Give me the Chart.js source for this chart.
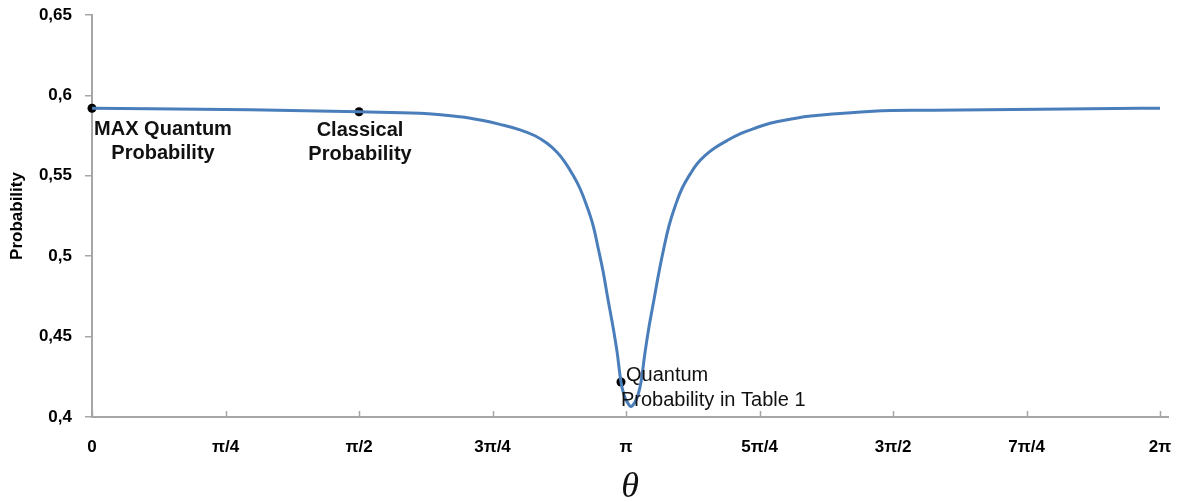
<!DOCTYPE html>
<html>
<head>
<meta charset="utf-8">
<script src="https://cdn.jsdelivr.net/npm/chart.js@4/dist/chart.umd.min.js"></script>
<style>
  html, body { margin: 0; padding: 0; background: #ffffff; }
  #wrap { width: 1181px; height: 502px; }
</style>
</head>
<body>
<div id="wrap"><canvas id="chart" width="1181" height="502"></canvas></div>
<script>
// Probability as a function of the phase angle θ (radians)
const theta = [0, 0.341, 0.930, 1.571, 1.930, 2.165, 2.294, 2.400, 2.518, 2.606, 2.677, 2.736, 2.783, 2.824,
  2.871, 2.912, 2.948, 2.977, 3.007, 3.036, 3.065, 3.089, 3.112, 3.130, 3.148, 3.171, 3.195, 3.212, 3.230,
  3.254, 3.277, 3.306, 3.336, 3.365, 3.395, 3.430, 3.471, 3.518, 3.559, 3.606, 3.665, 3.736, 3.812, 3.889,
  3.989, 4.106, 4.242, 4.595, 4.948, 5.577, 6.166, 6.283];
const prob = [0.5920, 0.5917, 0.5911, 0.5898, 0.5889, 0.5867, 0.5845, 0.5820, 0.5786, 0.5749, 0.5702, 0.5646,
  0.5584, 0.5515, 0.5421, 0.5309, 0.5191, 0.5054, 0.4904, 0.4729, 0.4561, 0.4405, 0.4218, 0.4137, 0.4094,
  0.4065, 0.4094, 0.4137, 0.4218, 0.4405, 0.4561, 0.4729, 0.4904, 0.5054, 0.5191, 0.5309, 0.5421, 0.5509,
  0.5573, 0.5625, 0.5674, 0.5719, 0.5761, 0.5792, 0.5827, 0.5852, 0.5873, 0.5902, 0.5908, 0.5914, 0.5920,
  0.5920];

// Highlighted points on the curve
const markTheta = [0, 1.571, 3.112];
const markProb = [0.5920, 0.5898, 0.4218];
const markNotes = [
  ['MAX Quantum', 'Probability'],
  ['Classical', 'Probability'],
  ['Quantum', 'Probability in Table 1']
];

// Axis ticks
const xTickLabels = ['0', 'π/4', 'π/2', '3π/4', 'π', '5π/4', '3π/2', '7π/4', '2π'];
const xTickValues = xTickLabels.map((_, k) => k * Math.PI / 4);
const yTickValues = [0.4, 0.45, 0.5, 0.55, 0.6, 0.65];
const yTickLabels = ['0,4', '0,45', '0,5', '0,55', '0,6', '0,65'];

const AXIS_GREY = '#a6a6a6';
const LINE_BLUE = '#4a7ebb';

// Small upward tick marks on the x axis
const innerXTicks = {
  id: 'innerXTicks',
  beforeDatasetsDraw(chart) {
    const { ctx, scales: { x }, chartArea } = chart;
    ctx.save();
    ctx.strokeStyle = AXIS_GREY;
    ctx.lineWidth = 1.5;
    xTickValues.forEach(v => {
      const px = Math.round(x.getPixelForValue(v)) + 0.5;
      ctx.beginPath();
      ctx.moveTo(px, chartArea.bottom);
      ctx.lineTo(px, chartArea.bottom - 6);
      ctx.stroke();
    });
    ctx.restore();
  }
};

// Text notes next to the highlighted points
const pointNotes = {
  id: 'pointNotes',
  afterDatasetsDraw(chart) {
    const { ctx } = chart;
    const pts = chart.getDatasetMeta(1).data;
    const styles = [
      { font: 'bold 20px "Liberation Sans", Arial, sans-serif', align: 'center', dx: [71, 71], dy: [27, 51] },
      { font: 'bold 20px "Liberation Sans", Arial, sans-serif', align: 'center', dx: [1, 1], dy: [24, 48] },
      { font: '20px "Liberation Sans", Arial, sans-serif', align: 'left', dx: [5, 0], dy: [-1, 24] }
    ];
    ctx.save();
    ctx.fillStyle = '#111111';
    ctx.textBaseline = 'alphabetic';
    markNotes.forEach((lines, i) => {
      const p = pts[i];
      const s = styles[i];
      ctx.font = s.font;
      ctx.textAlign = s.align;
      lines.forEach((t, j) => ctx.fillText(t, p.x + s.dx[j], p.y + s.dy[j]));
    });
    ctx.restore();
  }
};

new Chart(document.getElementById('chart'), {
  type: 'line',
  data: {
    datasets: [
      {
        data: theta.map((t, i) => ({ x: t, y: prob[i] })),
        borderColor: LINE_BLUE,
        borderWidth: 3,
        pointRadius: 0,
        tension: 0.4,
        fill: false,
        clip: false
      },
      {
        type: 'scatter',
        data: markTheta.map((t, i) => ({ x: t, y: markProb[i] })),
        backgroundColor: '#000000',
        borderColor: '#000000',
        pointRadius: 4.5,
        borderWidth: 0,
        clip: false
      }
    ]
  },
  options: {
    responsive: false,
    animation: false,
    devicePixelRatio: 1,
    layout: { padding: { top: 15, right: 13, left: 0, bottom: 0 } },
    plugins: { legend: { display: false }, tooltip: { enabled: false } },
    scales: {
      x: {
        type: 'linear',
        min: 0,
        max: 2 * Math.PI + 0.047,
        afterBuildTicks: s => { s.ticks = xTickValues.map(v => ({ value: v })); },
        afterFit: s => { s.height = 85; s.paddingLeft = 0; s.paddingRight = 0; },
        grid: { display: false },
        border: { display: true, color: AXIS_GREY, width: 2 },
        ticks: {
          autoSkip: false,
          maxRotation: 0,
          padding: 12,
          color: '#000000',
          font: { family: '"Liberation Sans", Arial, sans-serif', size: 17, weight: 'bold' },
          callback: (v, i) => xTickLabels[i]
        },
        title: {
          display: true,
          text: 'θ',
          color: '#111111',
          padding: 0,
          font: { family: '"Liberation Serif", "Times New Roman", serif', size: 36, style: 'italic', lineHeight: 0.78 }
        }
      },
      y: {
        min: 0.4,
        max: 0.65,
        afterBuildTicks: s => { s.ticks = yTickValues.map(v => ({ value: v })); },
        afterFit: s => { s.width = 92; s.paddingTop = 0; s.paddingBottom = 0; },
        grid: { drawOnChartArea: false, drawTicks: true, tickLength: 7, color: AXIS_GREY, lineWidth: 1.5 },
        border: { display: true, color: AXIS_GREY, width: 2 },
        ticks: {
          padding: 13,
          color: '#000000',
          font: { family: '"Liberation Sans", Arial, sans-serif', size: 17, weight: 'bold' },
          callback: (v, i) => yTickLabels[i]
        },
        title: {
          display: true,
          text: 'Probability',
          color: '#000000',
          padding: { top: 7, bottom: 0 },
          font: { family: '"Liberation Sans", Arial, sans-serif', size: 17, weight: 'bold' }
        }
      }
    }
  },
  plugins: [innerXTicks, pointNotes]
});
</script>
</body>
</html>
